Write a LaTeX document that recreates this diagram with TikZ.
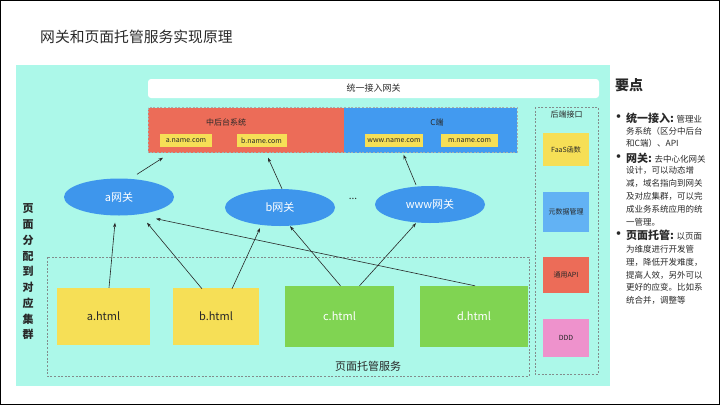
\documentclass[tikz,border=0pt]{standalone}
\usepackage{fontspec}
\setmainfont{Noto Sans CJK SC}
\usetikzlibrary{shapes.geometric,arrows.meta,calc}
\definecolor{bgcyan}{RGB}{172,248,233}
\definecolor{cred}{RGB}{236,108,88}
\definecolor{cblue}{RGB}{66,154,240}
\definecolor{cyel}{RGB}{246,223,86}
\definecolor{cgreen}{RGB}{128,212,82}
\definecolor{cell}{RGB}{62,150,236}
\definecolor{clblue}{RGB}{98,178,244}
\definecolor{cpink}{RGB}{238,146,204}
\definecolor{txt}{RGB}{40,40,40}
\definecolor{dgray}{RGB}{130,140,140}
\tikzset{
  fs/.style={font=\fontsize{#1}{#1}\selectfont},
  box/.style={rectangle, inner sep=0pt, anchor=center},
  gwell/.style={ellipse, fill=cell, inner sep=0pt, minimum width=110pt, minimum height=37pt, text=white, fs=11},
  dashbox/.style={draw=dgray, line width=0.6pt, dash pattern=on 2pt off 1.6pt},
  conn/.style={draw=txt, line width=0.6pt, -{Stealth[length=4.5pt,width=3.2pt]}},
  ptline/.style={anchor=west, inner sep=0pt, text=txt, fs=8.5},
  bullet/.style={anchor=center, inner sep=0pt, text=txt, font=\bfseries\fontsize{13}{13}\selectfont},
}
\begin{document}
\begin{tikzpicture}[x=1pt,y=-1pt]
\useasboundingbox (0,0) rectangle (720,405);
\draw[line width=1pt] (0.5,0.5) rectangle (719.5,404.5);

% title
\node[anchor=west, inner sep=0pt, text=txt, fs=14.8] (title) at (40,37) {网关和页面托管服务实现原理};

% background
\fill[bgcyan] (16,65) rectangle (610,386);

% unified gateway bar
\node[box, fill=white, rounded corners=3pt, minimum width=451pt, minimum height=19pt, text=txt, fs=9] (ugw) at (373.5,88.5) {统一接入网关};

% domain boxes
\node[box, fill=cred, minimum width=196pt, minimum height=45pt] (redbox) at (246,130) {};
\node[box, fill=cblue, minimum width=173pt, minimum height=45pt] (bluebox) at (430.5,130) {};
\draw[dashbox, draw=dgray!70!white] (148,107.5) rectangle (517,152.5);
\node[inner sep=0pt, text=txt, fs=8] (midlbl) at (226,122) {中后台系统};
\node[inner sep=0pt, text=txt, fs=8] (clbl) at (437,122) {C端};
\node[box, fill=cyel, minimum width=52pt, minimum height=13pt, text=txt, fs=7] (adom) at (186,140.5) {a.name.com};
\node[box, fill=cyel, minimum width=50pt, minimum height=13pt, text=txt, fs=7] (bdom) at (261.5,140.5) {b.name.com};
\node[box, fill=cyel, minimum width=58pt, minimum height=13pt, text=txt, fs=7] (wdom) at (394,140.5) {www.name.com};
\node[box, fill=cyel, minimum width=57pt, minimum height=13pt, text=txt, fs=7] (mdom) at (469.5,140.5) {m.name.com};

% gateways
\node[gwell] (agw) at (119,197) {a网关};
\node[gwell] (bgw) at (280,207.5) {b网关};
\node[gwell] (wgw) at (430,204.5) {www网关};
\node[inner sep=0pt, text=txt, fs=10] (dots) at (353,199) {...};

% vertical label
\node[inner sep=0pt, text=txt, align=center, font=\bfseries\fontsize{11}{15.75}\selectfont] (vlbl) at (28,272) {页\\面\\分\\配\\到\\对\\应\\集\\群};

% hosting box
\draw[dashbox] (47,257) rectangle (529,376);
\node[inner sep=0pt, text=txt, fs=11] (hostlbl) at (368,366) {页面托管服务};
\node[box, fill=cyel, minimum width=93pt, minimum height=57pt, text=txt, fs=11] (ahtml) at (103.5,316.5) {a.html};
\node[box, fill=cyel, minimum width=86pt, minimum height=57pt, text=txt, fs=11] (bhtml) at (216,316.5) {b.html};
\node[box, fill=cgreen, minimum width=109pt, minimum height=61pt, text=white, fs=11] (chtml) at (339.5,316.5) {c.html};
\node[box, fill=cgreen, minimum width=108pt, minimum height=61pt, text=white, fs=11] (dhtml) at (474,316.5) {d.html};

% backend
\draw[dashbox] (535,107) rectangle (598,374);
\node[inner sep=0pt, text=txt, fs=8] (belbl) at (566.5,114) {后端接口};
\node[box, fill=cyel, minimum width=46pt, minimum height=33pt, text=txt, fs=7] (faas) at (566,149.5) {FaaS函数};
\node[box, fill=clblue, minimum width=46pt, minimum height=40pt, text=txt, fs=7] (meta) at (566,212) {元数据管理};
\node[box, fill=cred, minimum width=46pt, minimum height=36pt, text=txt, fs=7] (api) at (566,275) {通用API};
\node[box, fill=cpink, minimum width=46pt, minimum height=38pt, text=txt, fs=7] (ddd) at (566,338) {DDD};

% arrows
\draw[conn] ($(ahtml.north)+(5.5,0)$) -- ($(agw.south)+(-4,7)$);
\draw[conn] ($(bhtml.north)+(-14,1)$) -- ($(agw.south)+(28,7)$);
\draw[conn] ($(bhtml.north)+(16,1)$) -- ($(bgw.south)+(-20,2)$);
\draw[conn] ($(chtml.north)+(1,0)$) -- ($(bgw.south)+(10,0)$);
\draw[conn] ($(chtml.north)+(20,0)$) -- ($(wgw.south)+(-14,0)$);
\draw[conn] ($(dhtml.north)+(1,0)$) -- ($(agw.south)+(37,3)$);
\draw[conn] ($(agw.north)+(18,-4)$) -- ($(redbox.south)+(-83,5)$);
\draw[conn] ($(bgw.north)+(2,0)$) -- ($(redbox.south)+(22,5)$);
\draw[conn] ($(wgw.north)+(-14,-1)$) -- ($(bluebox.south)+(-27,2)$);

% key points panel
\node[anchor=west, inner sep=0pt, text=txt, font=\bfseries\fontsize{14}{14}\selectfont] (kp) at (615,85) {要点};
\node[bullet] (bu1) at (618.5,118) {•};
\node[bullet] (bu2) at (618.5,158) {•};
\node[bullet] (bu3) at (618.5,235) {•};
\node[ptline] (l1) at (626,118) {{\bfseries\fontsize{11}{11}\selectfont 统一接入:} 管理业};
\node[ptline] (l2) at (626,131) {务系统（区分中后台};
\node[ptline] (l3) at (626,143) {和C端）、API};
\node[ptline] (l4) at (626,158) {{\bfseries\fontsize{11}{11}\selectfont 网关:} 去中心化网关};
\node[ptline] (l5) at (626,170.5) {设计，可以动态增};
\node[ptline] (l6) at (626,183.5) {减，域名指向到网关};
\node[ptline] (l7) at (626,196.5) {及对应集群，可以完};
\node[ptline] (l8) at (626,209.5) {成业务系统应用的统};
\node[ptline] (l9) at (626,222) {一管理。};
\node[ptline] (l10) at (626,235) {{\bfseries\fontsize{11}{11}\selectfont 页面托管:} 以页面};
\node[ptline] (l11) at (626,249) {为维度进行开发管};
\node[ptline] (l12) at (626,262) {理，降低开发难度，};
\node[ptline] (l13) at (626,275) {提高人效，另外可以};
\node[ptline] (l14) at (626,287.5) {更好的应变。比如系};
\node[ptline] (l15) at (626,300) {统合并，调整等};
\end{tikzpicture}
\end{document}
